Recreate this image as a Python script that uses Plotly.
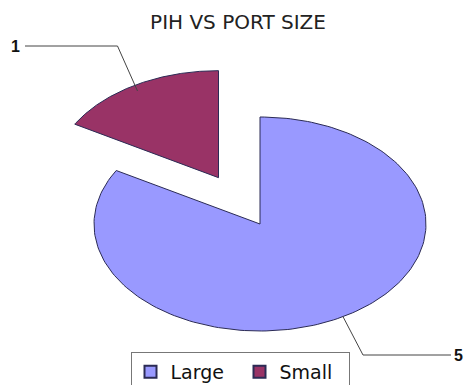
import numpy as np
import plotly.graph_objects as go

# ---- data ----
labels = ["Large", "Small"]
values = [5, 1]
colors = ["#9999FF", "#993366"]
pulls = [0.0, 0.5]
title_text = "PIH VS PORT SIZE"

# ---- layout constants (pixel space) ----
W, H = 464, 385
cx, cy = 260, 224
rx, ry = 166, 107

fig = go.Figure()

total = float(sum(values))
theta0 = 0.0
label_info = []
for lab, val, col, pull in zip(labels, values, colors, pulls):
    span = 360.0 * val / total
    th = np.radians(np.linspace(theta0, theta0 + span, 200))
    mid = np.radians(theta0 + span / 2)
    ox = pull * rx * np.sin(mid)
    oy = -pull * ry * np.cos(mid)
    vx, vy = cx + ox, cy + oy
    xs = np.concatenate([[vx], vx + rx * np.sin(th), [vx]])
    ys = np.concatenate([[vy], vy - ry * np.cos(th), [vy]])
    fig.add_trace(go.Scatter(
        x=xs, y=ys, mode="lines", fill="toself", fillcolor=col,
        line=dict(color="#2b2b55", width=1), name=lab, legendgroup=lab,
        showlegend=False, hoverinfo="text", text=f"{lab}: {val}"))
    # legend proxy
    fig.add_trace(go.Scatter(
        x=[None], y=[None], mode="markers", name=lab, legendgroup=lab,
        marker=dict(symbol="square", size=12, color=col,
                    line=dict(color="#2b2b55", width=1))))
    ex, ey = vx + rx * np.sin(mid), vy - ry * np.cos(mid)
    label_info.append((val, ex, ey, np.sin(mid)))
    theta0 += span

# leader lines and value labels
for val, ex, ey, s in label_info:
    if s < 0:
        ex2, ey2 = ex + 2, ey + 6
        bx, by = ex - 18, 46
        tx = 25
        fig.add_trace(go.Scatter(x=[ex2, bx, tx], y=[ey2, by, by], mode="lines",
                                 line=dict(color="#444", width=1),
                                 showlegend=False, hoverinfo="skip"))
        fig.add_annotation(x=tx - 3, y=by, text=f"<b>{val}</b>", showarrow=False,
                           xanchor="right", yanchor="middle",
                           font=dict(family="Liberation Sans", size=16, color="#111"))
    else:
        bx, by = ex + 20, 355
        tx = 451
        fig.add_trace(go.Scatter(x=[ex, bx, tx], y=[ey, by, by], mode="lines",
                                 line=dict(color="#444", width=1),
                                 showlegend=False, hoverinfo="skip"))
        fig.add_annotation(x=tx + 1, y=by, text=f"<b>{val}</b>", showarrow=False,
                           xanchor="left", yanchor="middle",
                           font=dict(family="Liberation Sans", size=16, color="#111"))

fig.update_layout(
    width=W, height=H, autosize=False,
    margin=dict(l=0, r=0, t=0, b=0, autoexpand=False),
    paper_bgcolor="white", plot_bgcolor="white",
    xaxis=dict(range=[0, W], visible=False, fixedrange=True),
    yaxis=dict(range=[H, 0], visible=False, fixedrange=True),
    title=dict(text=title_text, x=238 / W, xanchor="center",
               y=1 - 22 / H, yanchor="middle",
               font=dict(family="DejaVu Sans", size=20, color="#222")),
    legend=dict(orientation="h", x=240 / W, xanchor="center",
                y=1 - 352 / H, yanchor="top",
                bordercolor="#777", borderwidth=1, bgcolor="white",
                font=dict(family="DejaVu Sans", size=19, color="#111"),
                entrywidth=64, entrywidthmode="pixels",
                itemsizing="constant", tracegroupgap=0),
    showlegend=True,
)

fig.write_html("out.html")
